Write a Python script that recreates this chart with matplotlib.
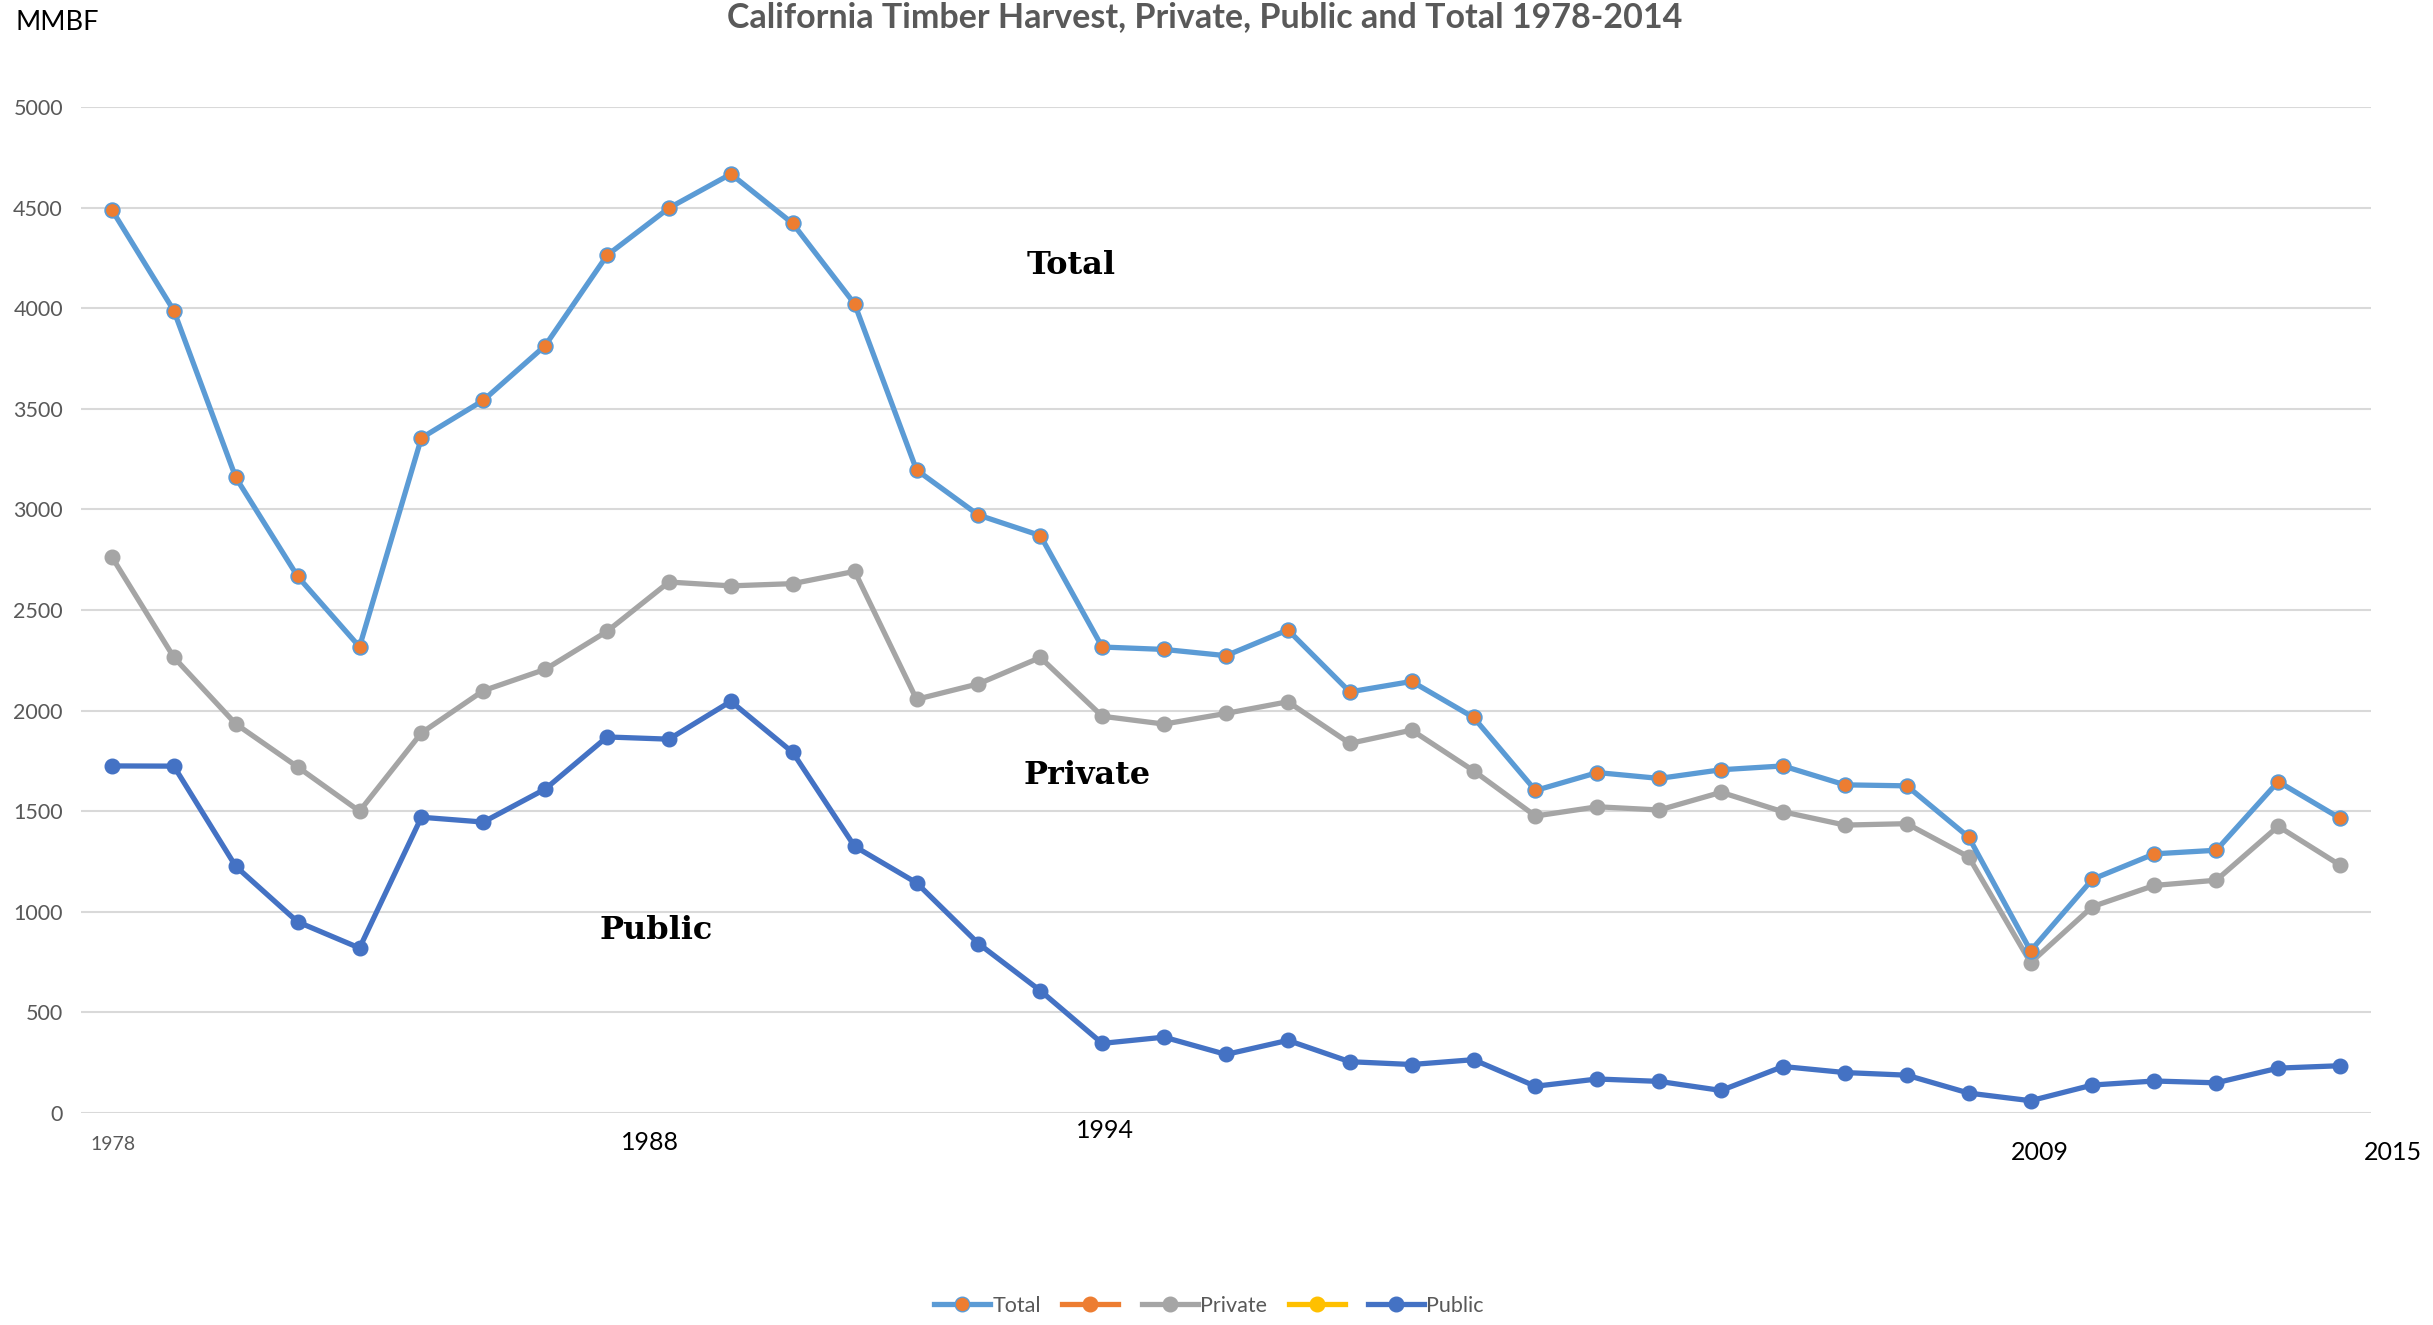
import matplotlib
matplotlib.use("Agg")
import matplotlib.pyplot as plt
from matplotlib.lines import Line2D
import numpy as np

W, H = 2433, 1325

years = np.arange(1978, 2015)
total = [4488, 3988, 3159, 2667, 2317, 3355, 3542, 3814, 4263, 4498, 4667, 4421,
         4021, 3196, 2972, 2870, 2316, 2304, 2273, 2401, 2093, 2145, 1966, 1603,
         1692, 1663, 1706, 1725, 1631, 1626, 1371, 806, 1162, 1288, 1306, 1647, 1465]
private = [2763, 2265, 1934, 1720, 1500, 1889, 2099, 2205, 2394, 2639, 2620, 2631,
           2692, 2056, 2133, 2264, 1972, 1933, 1986, 2044, 1837, 1903, 1701, 1476,
           1522, 1506, 1594, 1497, 1431, 1438, 1273, 747, 1026, 1131, 1157, 1425, 1232]
public = [1725, 1724, 1226, 950, 820, 1470, 1446, 1610, 1869, 1858, 2046, 1792,
          1325, 1144, 842, 608, 346, 377, 291, 361, 255, 241, 265, 133,
          169, 157, 112, 231, 201, 188, 99, 61, 139, 159, 150, 223, 235]

yticks = [0, 500, 1000, 1500, 2000, 2500, 3000, 3500, 4000, 4500, 5000]
legend_labels = ["Total", "", "Private", "", "Public"]
title = "California Timber Harvest, Private, Public and Total 1978-2014"

BLUE_LIGHT = "#5B9BD5"
ORANGE = "#ED7D31"
GREY = "#A5A5A5"
YELLOW = "#FFC000"
BLUE = "#4472C4"
TEXT = "#595959"

plt.rcParams['font.family'] = ['Lato', 'DejaVu Sans']

fig = plt.figure(figsize=(W / 100, H / 100), dpi=100)
ax = fig.add_axes([81 / W, 1 - 1113 / H, (2371 - 81) / W, (1113 - 107) / H])

lw = 3.8
ms = 10.5
ax.plot(years, private, color=GREY, lw=lw, marker="o", ms=ms, mfc=GREY, mec=GREY, zorder=3)
ax.plot(years, public, color=BLUE, lw=lw, marker="o", ms=ms, mfc=BLUE, mec=BLUE, zorder=3)
ax.plot(years, total, color=BLUE_LIGHT, lw=lw, marker="o", ms=ms, mfc=ORANGE, mec=BLUE_LIGHT,
        mew=1.3, zorder=4)

ax.set_xlim(1977.5, 2014.5)
ax.set_ylim(0, 5000)
ax.set_yticks(yticks)
ax.set_xticks([])
ax.tick_params(axis="y", length=0, pad=13, labelsize=15.5, labelcolor=TEXT)
ax.grid(axis="y", color="#D9D9D9", lw=1.5)
ax.set_axisbelow(True)
for s in ax.spines.values():
    s.set_visible(False)

# series labels inside the chart
lab_kw = dict(family="DejaVu Serif", fontweight="bold", fontsize=23, color="black",
              ha="center", va="center")
ax.text(1993.5, 4210, "Total", **lab_kw)
ax.text(1993.75, 1675, "Private", **lab_kw)
ax.text(1986.8, 905, "Public", **lab_kw)

# hand placed year labels under the axis
def ftext(px, py, s, **kw):
    fig.text(px / W, 1 - py / H, s, ha="center", va="center", **kw)

ftext(113, 1144, "1978", fontsize=14, color=TEXT)
ftext(650, 1142, "1988", fontsize=18, color="black")
ftext(1105, 1131, "1994", fontsize=18, color="black")
ftext(2040, 1153, "2009", fontsize=18, color="black")
ftext(2393, 1153, "2015", fontsize=18, color="black")

ftext(1205, 17, title, fontsize=24.5, fontweight="bold", color=TEXT)
fig.text(16 / W, 1 - 22 / H, "MMBF", ha="left", va="center", fontsize=19.5, color="black")

handles = [
    Line2D([], [], color=BLUE_LIGHT, lw=lw, marker="o", ms=ms, mfc=ORANGE, mec=BLUE_LIGHT),
    Line2D([], [], color=ORANGE, lw=lw, marker="o", ms=ms, mfc=ORANGE, mec=ORANGE),
    Line2D([], [], color=GREY, lw=lw, marker="o", ms=ms, mfc=GREY, mec=GREY),
    Line2D([], [], color=YELLOW, lw=lw, marker="o", ms=ms, mfc=YELLOW, mec=YELLOW),
    Line2D([], [], color=BLUE, lw=lw, marker="o", ms=ms, mfc=BLUE, mec=BLUE),
]
leg = fig.legend(handles, legend_labels, loc="center", bbox_to_anchor=(1209 / W, 1 - 1306 / H),
                 ncol=5, frameon=False, fontsize=15.5, handlelength=2.6, handletextpad=0.1,
                 columnspacing=1.0)
for t in leg.get_texts():
    t.set_color(TEXT)

fig.savefig("out.png", dpi=100)
